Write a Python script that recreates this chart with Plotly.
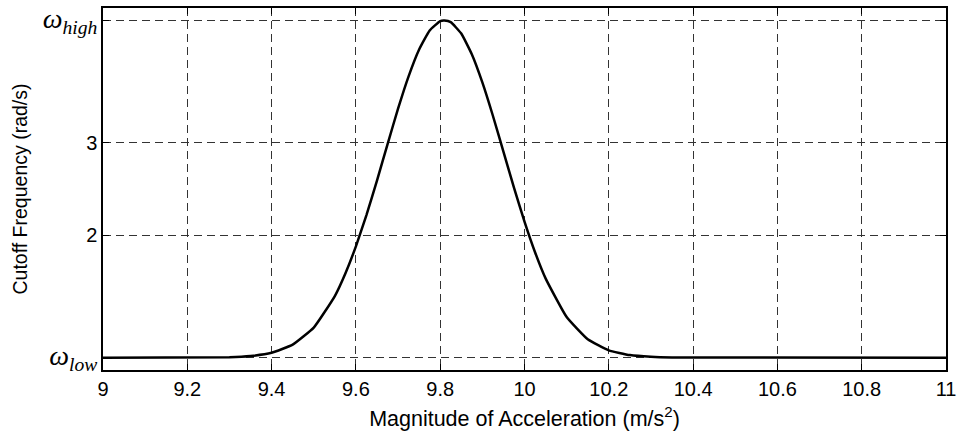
import plotly.graph_objects as go

# Data
w_low = 0.667
w_high = 4.33
x_vals = [9.0, 9.30, 9.35, 9.40, 9.45, 9.50, 9.55, 9.575, 9.60, 9.625, 9.65, 9.675, 9.70, 9.725,
          9.75, 9.775, 9.80, 9.81, 9.825, 9.85, 9.875, 9.90, 9.925, 9.95, 9.975, 10.00, 10.025,
          10.05, 10.10, 10.15, 10.20, 10.25, 10.30, 10.35, 11.0]
y_vals = [0.667, 0.672, 0.685, 0.720, 0.808, 0.994, 1.337, 1.582, 1.877, 2.217, 2.592, 2.986, 3.373, 3.724,
          4.016, 4.223, 4.324, 4.33, 4.313, 4.189, 3.964, 3.658, 3.296, 2.907, 2.516, 2.146, 1.813,
          1.529, 1.109, 0.867, 0.747, 0.695, 0.676, 0.669, 0.667]
x_ticks = [9, 9.2, 9.4, 9.6, 9.8, 10, 10.2, 10.4, 10.6, 10.8, 11]
x_tick_labels = ["9", "9.2", "9.4", "9.6", "9.8", "10", "10.2", "10.4", "10.6", "10.8", "11"]
y_ticks = [w_low, 2, 3, w_high]
y_tick_labels = [
    '<span style="font-family:Liberation Serif;font-size:28px"><i>ω<sub>low</sub></i></span>',
    "2", "3",
    '<span style="font-family:Liberation Serif;font-size:28px"><i>ω<sub>high</sub></i></span>',
]

FONT = "Liberation Sans, Arial, sans-serif"

fig = go.Figure()
fig.add_trace(go.Scatter(x=x_vals, y=y_vals, mode="lines",
                         line=dict(color="black", width=2.5, shape="spline", smoothing=0.4),
                         showlegend=False, hoverinfo="skip"))

axis_common = dict(
    showline=True, linecolor="black", linewidth=1.5, mirror="allticks",
    ticks="inside", ticklen=6, tickcolor="black", tickwidth=1,
    showgrid=True, gridcolor="#333333", gridwidth=1, griddash="8px,5px",
    zeroline=False, automargin=False, ticklabeloverflow="allow",
    tickfont=dict(family=FONT, size=20, color="black"),
)

fig.update_xaxes(range=[9, 11], tickvals=x_ticks, ticktext=x_tick_labels,
                 title=dict(text="Magnitude of Acceleration (m/s<sup>2</sup>)",
                            font=dict(family=FONT, size=21.5, color="black"),
                            standoff=12),
                 **axis_common)
fig.update_yaxes(range=[0.533, 4.467], tickvals=y_ticks, ticktext=y_tick_labels,
                 title=dict(text="Cutoff Frequency (rad/s)",
                            font=dict(family=FONT, size=19.5, color="black"),
                            standoff=10),
                 **axis_common)

fig.update_layout(width=962, height=437, margin=dict(l=103, r=16, t=8, b=67),
                  paper_bgcolor="white", plot_bgcolor="white")

# remove the page's default body margin so the figure fills the window exactly
fig.write_html("out.html", config={"displayModeBar": False},
               post_script="document.body.style.margin='0';document.body.style.overflow='hidden';")
